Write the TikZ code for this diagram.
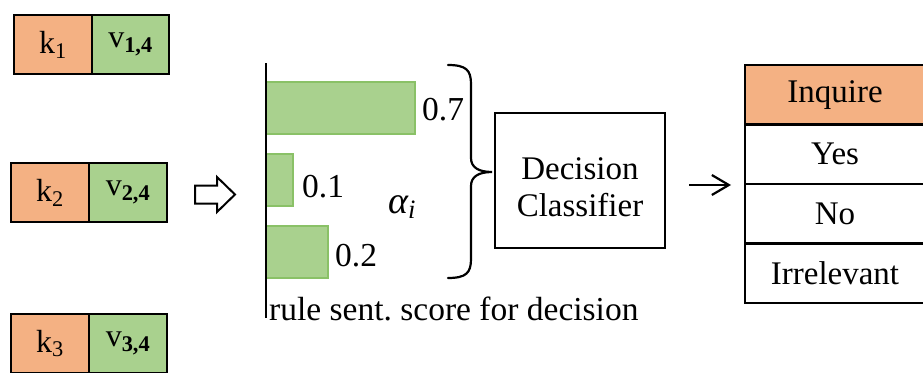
\RequirePackage{fix-cm}
\documentclass[tikz,border=0pt]{standalone}
\usepackage{fontspec}
\setmainfont{Liberation Serif}
\usetikzlibrary{arrows.meta,calc}
\definecolor{keyorange}{HTML}{F4B183}
\definecolor{valgreen}{HTML}{A9D18E}
\definecolor{barline}{HTML}{8AC167}
\newcommand{\kvsub}[1]{\textsubscript{#1}}
\begin{document}
\begin{tikzpicture}[x=1pt,y=-1pt,
  cell/.style={draw=black, line width=2.2pt, inner sep=0pt, outer sep=0pt,
    minimum height=59pt, anchor=north west, font=\fontsize{32}{38}\selectfont},
  keycell/.style={cell, fill=keyorange, minimum width=78pt},
  valcell/.style={cell, fill=valgreen, minimum width=77pt},
  bar/.style={draw=barline, line width=1.5pt, fill=valgreen, inner sep=0pt,
    outer sep=0pt, minimum height=52pt, anchor=north west},
  lbl/.style={font=\fontsize{33.5}{38}\selectfont, inner sep=0pt, anchor=base west},
  row/.style={draw=black, line width=2.2pt, inner sep=0pt, outer sep=0pt,
    minimum width=180pt, minimum height=59.5pt, anchor=north west,
    font=\fontsize{33}{38}\selectfont}
]
\clip (0,0) rectangle (923,372);
\fill[white] (0,0) rectangle (923,372);

% key / value pairs
\node[keycell] (k1) at (14,15) {k\kvsub{1}};
\node[valcell] (v1) at (k1.north east) {v\kvsub{\textbf{1,4}}};
\node[keycell] (k2) at (11,163) {k\kvsub{2}};
\node[valcell, minimum width=78pt] (v2) at (k2.north east) {v\kvsub{\textbf{2,4}}};
\node[keycell] (k3) at (11,314) {k\kvsub{3}};
\node[valcell, minimum width=78pt] (v3) at (k3.north east) {v\kvsub{\textbf{3,4}}};

% hollow block arrow
\draw[line width=2pt, fill=white, line join=miter]
  (195,185.5) -- (217,185.5) -- (217,177) -- (235,194.5) -- (217,212)
  -- (217,203.5) -- (195,203.5) -- cycle;

% score bars
\coordinate (axtop) at (266,63);
\coordinate (axbot) at (266,318);
\node[bar, minimum width=149pt] (b1) at (266,82) {};
\node[bar, minimum width=27pt] (b2) at (266,154) {};
\node[bar, minimum width=62pt] (b3) at (266,226) {};
\draw[line width=2pt] (axtop) -- (axbot);
\node[lbl] (s1) at (422,120) {0.7};
\node[lbl] (s2) at (302,197) {0.1};
\node[lbl] (s3) at (335,266) {0.2};
\node[lbl, font=\fontsize{38}{40}\selectfont] (alpha) at (388,213) {\itshape α\kvsub{i}};
\node[lbl] (caption) at (269,320) {rule sent.\ score for decision};

% curly brace gathering the scores
\coordinate (brTop) at (448,65);
\coordinate (brBot) at (448,278);
\coordinate (brTip) at (492,172);
\draw[line width=2.2pt, line cap=round]
  (brTop) .. controls (466,65) and (471,70) .. (471,84) -- (471,158)
  .. controls (471,167) and (478,172) .. (brTip)
  .. controls (478,172) and (471,177) .. (471,186) -- (471,259)
  .. controls (471,273) and (466,278) .. (brBot);

% classifier
\node[draw, line width=2.2pt, minimum width=170pt, minimum height=135pt,
  inner sep=0pt] (dc) at (580,180.5) {};
\node[align=center, font=\fontsize{33}{37}\selectfont, inner sep=0pt]
  (dctext) at ($(dc.center)+(0,7)$) {Decision\\Classifier};

% output arrow
\coordinate (arL) at (689,185);
\coordinate (arR) at (731,185);
\draw[line width=2.2pt, -{Straight Barb[length=17pt, width=20pt]}] (arL) -- (arR);

% decision table
\node[row, fill=keyorange] (inq) at (745,65) {Inquire};
\node[row] (yes) at (inq.south west) {Yes};
\node[row] (no) at (yes.south west) {No};
\node[row] (irr) at (no.south west) {Irrelevant};
\end{tikzpicture}
\end{document}
